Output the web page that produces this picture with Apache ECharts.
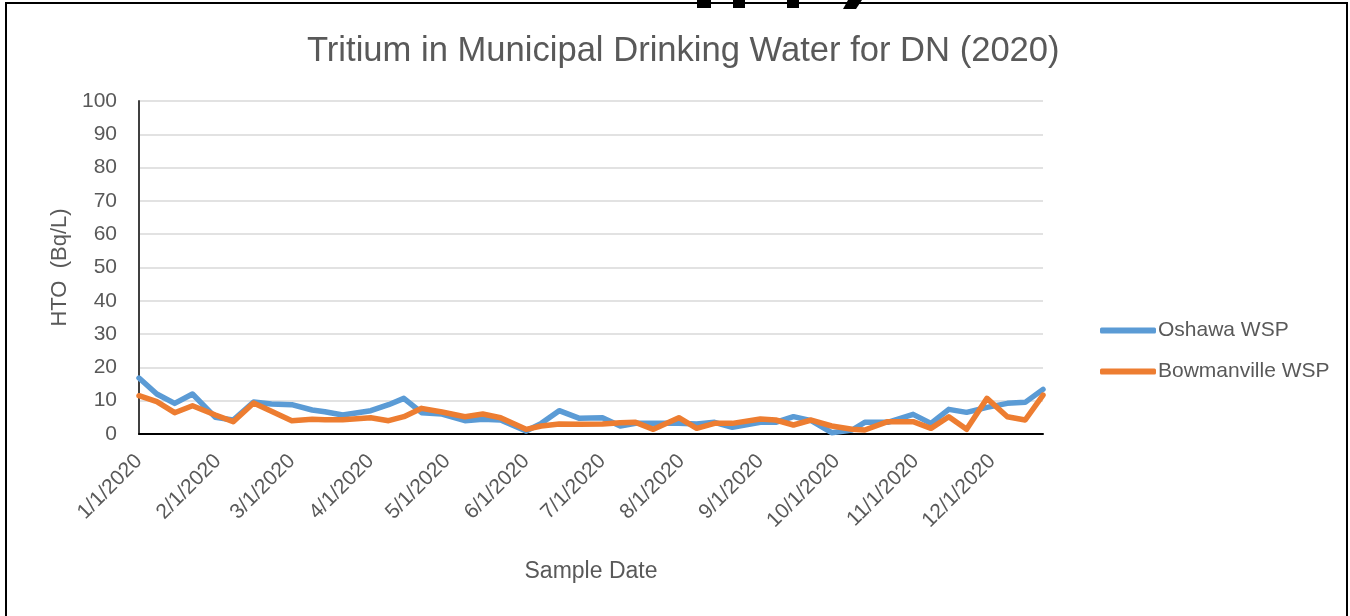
<!DOCTYPE html>
<html>
<head>
<meta charset="utf-8">
<script src="https://cdn.jsdelivr.net/npm/echarts@6/dist/echarts.min.js"></script>
<style>
html,body{margin:0;padding:0;background:#fff;}
#chart{width:1350px;height:616px;}
</style>
</head>
<body>
<div id="chart"></div>
<script>
const sampleDates = [
  '2020-01-01','2020-01-08','2020-01-15','2020-01-22','2020-01-31','2020-02-07','2020-02-15','2020-02-22',
  '2020-03-01','2020-03-09','2020-03-14','2020-03-21','2020-04-01','2020-04-08','2020-04-14','2020-04-21',
  '2020-04-29','2020-05-08','2020-05-15','2020-05-22','2020-06-01','2020-06-07','2020-06-14','2020-06-22',
  '2020-07-01','2020-07-08','2020-07-14','2020-07-21','2020-07-31','2020-08-07','2020-08-14','2020-08-21',
  '2020-09-01','2020-09-07','2020-09-14','2020-09-21','2020-09-29','2020-10-07','2020-10-12','2020-10-21',
  '2020-10-31','2020-11-07','2020-11-14','2020-11-21','2020-11-29','2020-12-07','2020-12-14','2020-12-21'
];
const oshawa = [
  16.8, 12.0, 9.2, 12.0, 5.0, 4.2, 9.6, 9.0,
  8.8, 7.2, 6.7, 5.7, 7.0, 8.8, 10.7, 6.4,
  6.0, 4.0, 4.4, 4.2, 0.9, 3.2, 7.0, 4.7,
  4.9, 2.4, 3.2, 3.2, 3.2, 3.0, 3.5, 2.0,
  3.5, 3.5, 5.2, 4.0, 0.4, 1.2, 3.5, 3.5,
  5.9, 3.2, 7.4, 6.5, 8.0, 9.2, 9.5, 13.4
];
const bowmanville = [
  11.5, 9.7, 6.4, 8.5, 5.7, 3.7, 9.3, 6.8,
  4.0, 4.4, 4.3, 4.3, 4.9, 4.0, 5.2, 7.7,
  6.6, 5.2, 6.0, 4.9, 1.4, 2.4, 3.0, 2.9,
  3.0, 3.4, 3.5, 1.4, 4.9, 1.7, 3.2, 3.2,
  4.5, 4.2, 2.7, 4.2, 2.4, 1.4, 1.2, 3.7,
  3.7, 1.7, 5.2, 1.4, 10.7, 5.2, 4.2, 11.7
];
const monthTicks = [
  '2020-01-01','2020-02-01','2020-03-01','2020-04-01','2020-05-01','2020-06-01',
  '2020-07-01','2020-08-01','2020-09-01','2020-10-01','2020-11-01','2020-12-01'
];
const seriesNames = ['Oshawa WSP', 'Bowmanville WSP'];
const titleText = 'Tritium in Municipal Drinking Water for DN (2020)';
const yName = 'HTO  (Bq/L)';
const xName = 'Sample Date';

function ts(s){ const p = s.split('-').map(Number); return Date.UTC(p[0], p[1]-1, p[2]); }
function fmt(v){ const d = new Date(v); return (d.getUTCMonth()+1) + '/' + d.getUTCDate() + '/' + d.getUTCFullYear(); }

const textColor = '#595959';
const font = 'Liberation Sans';
const chart = echarts.init(document.getElementById('chart'), null, {renderer:'canvas'});
chart.setOption({
  animation: false,
  title: {
    text: titleText, left: 302, top: 29,
    textStyle: {fontFamily: font, fontSize: 34.6, fontWeight: 'normal', color: textColor}
  },
  legend: {
    orient: 'vertical', left: 1095, top: 315, itemGap: 20,
    itemWidth: 56, itemHeight: 6, icon: 'roundRect',
    textStyle: {fontFamily: font, fontSize: 21, color: textColor, padding: [0,0,0,-3]},
    data: seriesNames
  },
  grid: {left: 139, right: 307, top: 101, bottom: 182, containLabel: false},
  xAxis: {
    type: 'value',
    min: ts(sampleDates[0]), max: ts(sampleDates[sampleDates.length-1]),
    name: xName, nameLocation: 'middle', nameGap: 126,
    nameTextStyle: {fontFamily: font, fontSize: 23, color: textColor},
    axisLine: {show: true, lineStyle: {color: '#000', width: 2}},
    axisTick: {show: false},
    splitLine: {show: false},
    axisLabel: {
      rotate: 45, fontFamily: font, fontSize: 21, color: textColor, margin: 24,
      customValues: monthTicks.map(ts),
      formatter: function(v){ return fmt(v); },
      hideOverlap: false
    }
  },
  yAxis: {
    type: 'value', min: 0, max: 100, interval: 10,
    name: yName, nameLocation: 'middle', nameGap: 68, nameRotate: 90,
    nameTextStyle: {fontFamily: font, fontSize: 22, color: textColor},
    axisLine: {show: true, lineStyle: {color: '#404040', width: 2}},
    axisTick: {show: false},
    splitLine: {show: true, lineStyle: {color: '#d9d9d9', width: 1.5}},
    axisLabel: {fontFamily: font, fontSize: 21, color: textColor, margin: 22}
  },
  series: [
    {
      name: seriesNames[0], type: 'line', symbol: 'none', smooth: false,
      data: sampleDates.map((d,i)=>[ts(d), oshawa[i]]),
      lineStyle: {color: '#5B9BD5', width: 5.5, cap: 'round', join: 'round'},
      itemStyle: {color: '#5B9BD5'}
    },
    {
      name: seriesNames[1], type: 'line', symbol: 'none', smooth: false,
      data: sampleDates.map((d,i)=>[ts(d), bowmanville[i]]),
      lineStyle: {color: '#ED7D31', width: 5.5, cap: 'round', join: 'round'},
      itemStyle: {color: '#ED7D31'}
    }
  ],
  graphic: [
    {type: 'rect', shape: {x: 6, y: 3, width: 1341, height: 620},
     style: {fill: 'none', stroke: '#000', lineWidth: 2}, silent: true},
    {type: 'rect', shape: {x: 697, y: 0, width: 14, height: 8}, style: {fill: '#000'}, silent: true},
    {type: 'rect', shape: {x: 733, y: 0, width: 12, height: 8}, style: {fill: '#000'}, silent: true},
    {type: 'rect', shape: {x: 787, y: 0, width: 12, height: 8}, style: {fill: '#000'}, silent: true},
    {type: 'polygon', shape: {points: [[848,0],[862,0],[856,9],[843,9]]}, style: {fill: '#000'}, silent: true}
  ]
});
</script>
</body>
</html>
